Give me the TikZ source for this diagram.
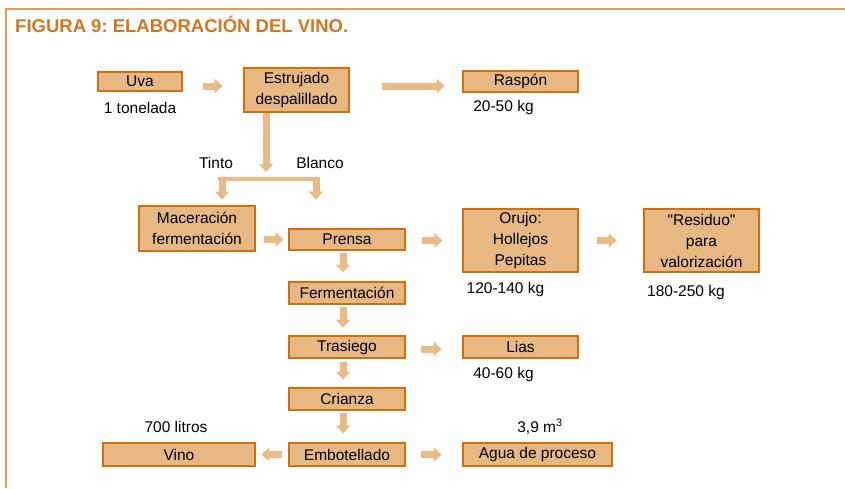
\documentclass[tikz,border=0pt]{standalone}
\usepackage{fontspec}
\setmainfont{Liberation Sans}[Ligatures=TeXOff]
\usetikzlibrary{arrows.meta,calc}
\definecolor{boxfill}{HTML}{E8B882}
\definecolor{boxline}{HTML}{D1700A}
\definecolor{arrowc}{HTML}{EABB86}
\definecolor{framec}{HTML}{E39D4F}
\definecolor{titlec}{HTML}{D4761E}
\frenchspacing
\begin{document}
\begin{tikzpicture}[x=1pt,y=-1pt,
  box/.style={draw=boxline, fill=boxfill, line width=2.8pt, inner sep=0pt, align=center,
    font=\fontsize{15.5}{21}\selectfont},
  lbl/.style={inner sep=0pt, anchor=base, font=\fontsize{15.5}{18}\selectfont},
  flow/.style={draw=arrowc, line width=7pt, -{Triangle[width=14pt,length=8pt]}},
  bar/.style={draw=arrowc, line width=4pt}]
\useasboundingbox (0,0) rectangle (845,488);
% frame
\draw[framec, line width=2pt] (6,488) -- (6,9) -- (845,9);
\node[anchor=base west, text=titlec, inner sep=0pt,
  font=\bfseries\fontsize{18.5}{20}\selectfont] (title) at (15,32) {FIGURA 9: ELABORACIÓN DEL VINO.};
% boxes
\node[box, minimum width=84pt, minimum height=19pt] (uva) at (140,81.5) {Uva};
\node[box, minimum width=105pt, minimum height=44pt] (estr) at (296.5,90) {Estrujado\\despalillado};
\node[box, minimum width=115pt, minimum height=21pt] (rasp) at (520.5,81.5) {Raspón};
\node[box, minimum width=116pt, minimum height=45pt] (mac) at (197,228.5) {Maceración\\fermentación};
\node[box, minimum width=116pt, minimum height=21pt] (prensa) at (347,239.5) {Prensa};
\node[box, minimum width=115pt, minimum height=63pt] (orujo) at (520.5,240.5) {Orujo:\\Hollejos\\Pepitas};
\node[box, minimum width=115pt, minimum height=63pt] (resid) at (701.5,240.5) {"Residuo"\\para\\valorización};
\node[box, minimum width=116pt, minimum height=22pt] (ferm) at (347,293) {Fermentación};
\node[box, minimum width=116pt, minimum height=22pt] (tras) at (347,347) {Trasiego};
\node[box, minimum width=115pt, minimum height=22pt] (lias) at (520.5,347) {Lias};
\node[box, minimum width=116pt, minimum height=22pt] (crian) at (347,399) {Crianza};
\node[box, minimum width=116pt, minimum height=23pt] (embot) at (347,454.5) {Embotellado};
\node[box, minimum width=152pt, minimum height=23pt] (vino) at (179,454.5) {Vino};
\node[box, minimum width=149pt, minimum height=23pt] (agua) at (537.5,454.5) {Agua de proceso};
% labels
\node[lbl] (ton) at (140,113) {1 tonelada};
\node[lbl] (kg1) at (503.5,111) {20-50 kg};
\node[lbl] (tinto) at (216,168) {Tinto};
\node[lbl] (blanco) at (320,168) {Blanco};
\node[lbl] (kg2) at (505.5,293) {120-140 kg};
\node[lbl] (kg3) at (686,296) {180-250 kg};
\node[lbl] (kg4) at (503.5,378) {40-60 kg};
\node[lbl] (m3) at (540,432) {3,9 m\textsuperscript{3}};
\node[lbl] (lit) at (176,432) {700 litros};
% split coordinates
\coordinate (split) at (266,179);
\coordinate (bl) at (222,179);
\coordinate (br) at (316,179);
% arrows
\draw[flow, shorten <=20pt, shorten >=20pt] ([yshift=-4.5pt]uva.east) -- ([yshift=-4.5pt]uva.east -| estr.west);
\draw[flow, shorten <=32pt, shorten >=17pt] ([yshift=4pt]estr.east) -- ([yshift=4pt]estr.east -| rasp.west);
\draw[flow, shorten >=7pt] (estr.south -| split) -- (split);
\draw[bar] ([xshift=-4pt]bl) -- ([xshift=4pt]br);
\draw[flow, shorten <=-2pt, shorten >=5pt] (bl) -- (bl |- mac.north);
\draw[flow, shorten <=-2pt, shorten >=28pt] (br) -- (br |- prensa.north);
\draw[flow, shorten <=8pt, shorten >=4pt] (prensa.west -| mac.east) -- (prensa.west);
\draw[flow, shorten <=16pt, shorten >=19pt] ([yshift=-1pt]prensa.east) -- ([yshift=-1pt]prensa.east -| orujo.west);
\draw[flow, shorten <=18pt, shorten >=26pt] (orujo.east) -- (orujo.east -| resid.west);
\draw[flow, shorten <=2pt, shorten >=8pt] ([xshift=-4pt]prensa.south) -- ([xshift=-4pt]prensa.south |- ferm.north);
\draw[flow, shorten <=2pt, shorten >=7pt] ([xshift=-4pt]ferm.south) -- ([xshift=-4pt]ferm.south |- tras.north);
\draw[flow, shorten <=15pt, shorten >=20pt] ([yshift=-2pt]tras.east) -- ([yshift=-2pt]tras.east -| lias.west);
\draw[flow, shorten <=3pt, shorten >=7pt] ([xshift=-4pt]tras.south) -- ([xshift=-4pt]tras.south |- crian.north);
\draw[flow, shorten <=2pt, shorten >=8pt] ([xshift=-4pt]crian.south) -- ([xshift=-4pt]crian.south |- embot.north);
\draw[flow, shorten <=15pt, shorten >=20pt] (embot.east) -- (embot.east -| agua.west);
\draw[flow, shorten <=6pt, shorten >=5pt] (embot.west) -- (embot.west -| vino.east);
\end{tikzpicture}
\end{document}
